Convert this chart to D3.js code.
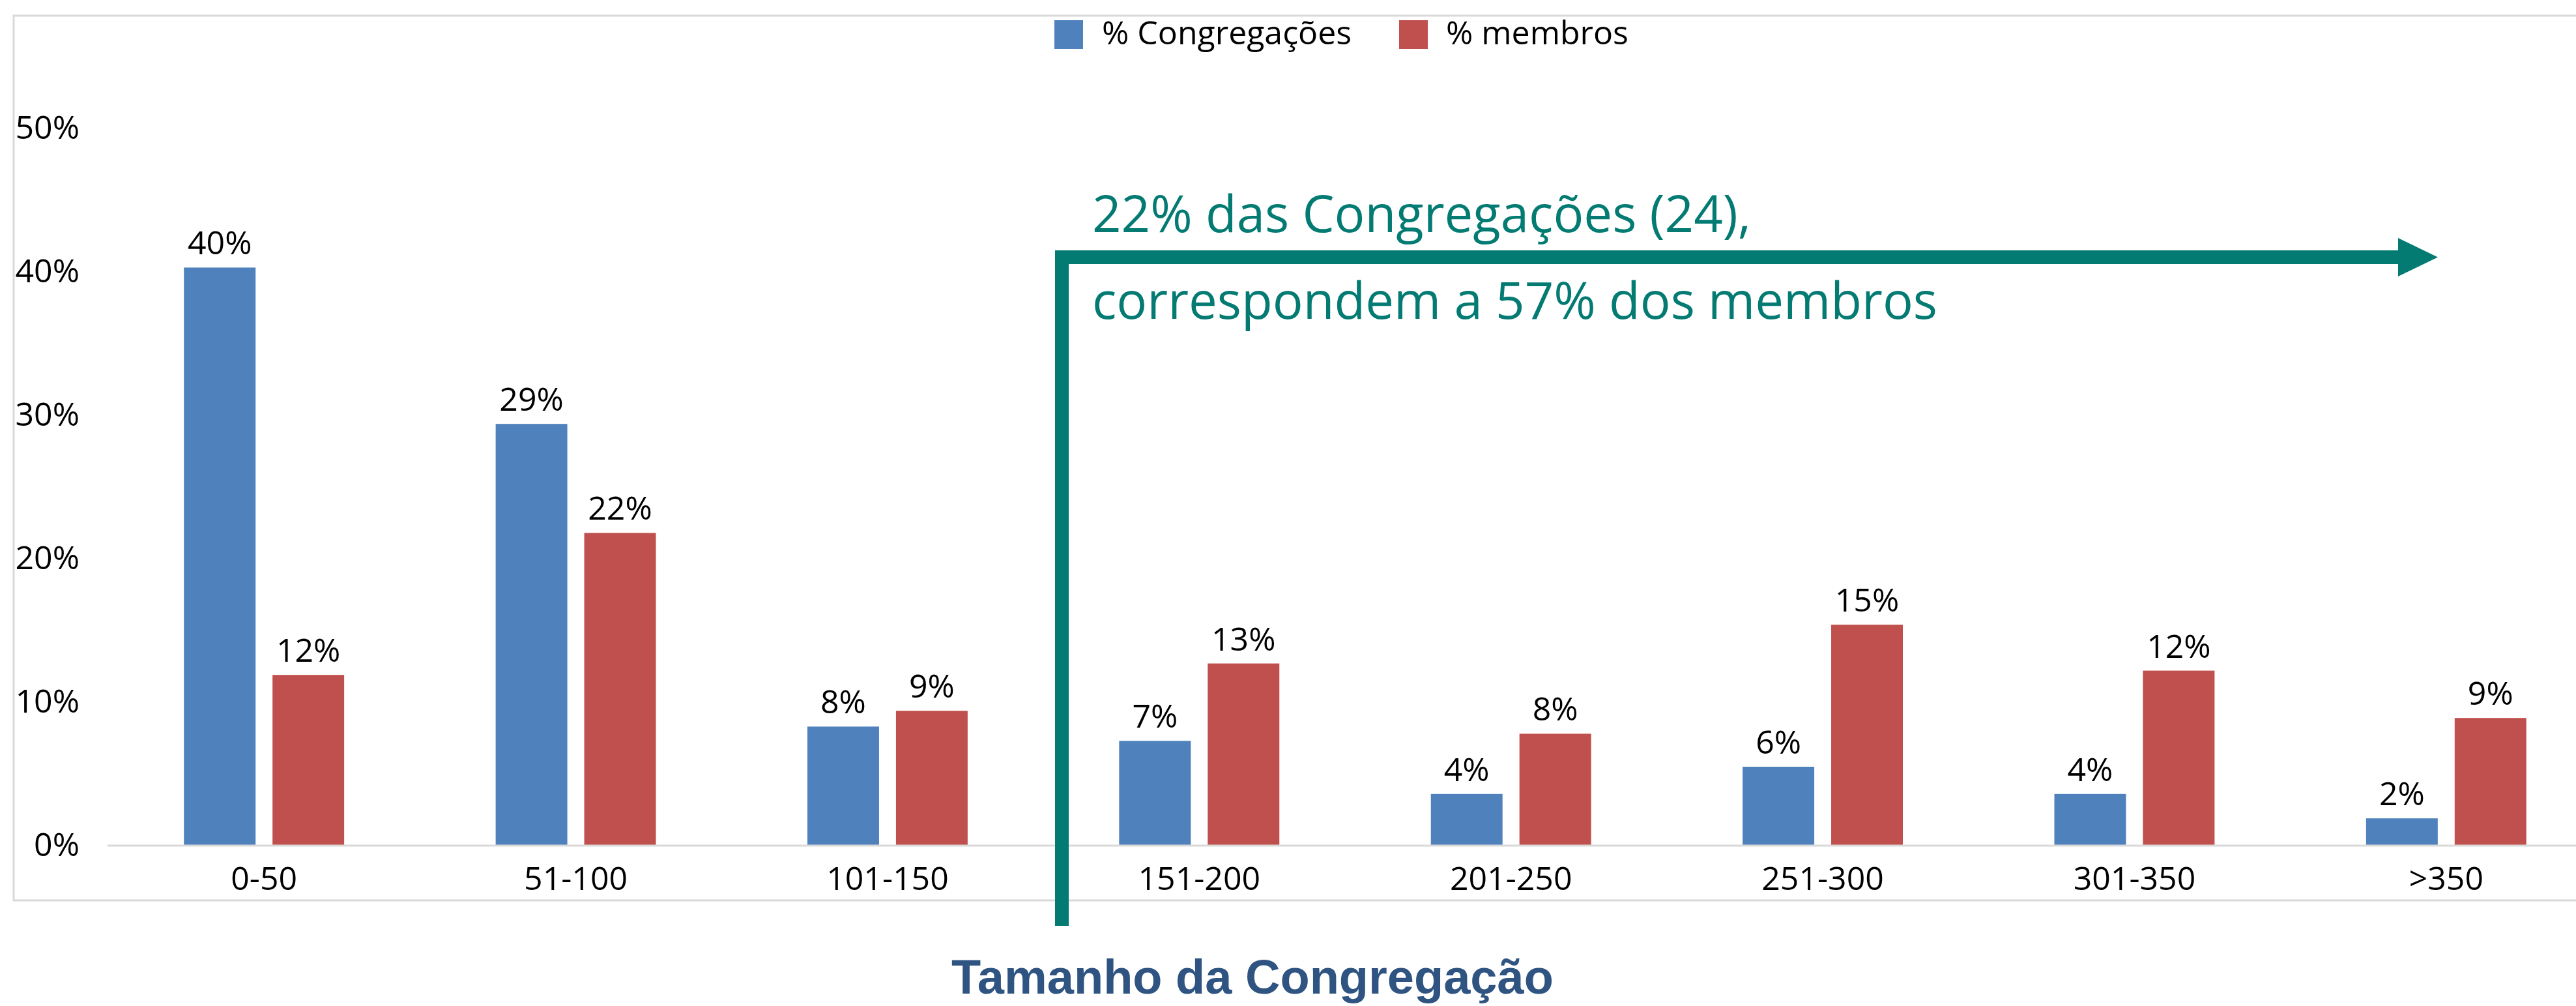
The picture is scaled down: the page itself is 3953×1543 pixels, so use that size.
<!DOCTYPE html>
<html>
<head>
<meta charset="utf-8">
<script src="https://cdn.jsdelivr.net/npm/d3@7"></script>
<style>
  html, body { margin: 0; padding: 0; background: #fff; }
  svg { display: block; }
</style>
</head>
<body>
<script>
// ---- data ----
const categories = ["0-50", "51-100", "101-150", "151-200", "201-250", "251-300", "301-350", ">350"];
const seriesNames = ["% Congregações", "% membros"];
const congregacoes = [40.3, 29.4, 8.3, 7.3, 3.6, 5.5, 3.6, 1.9];
const membros = [11.9, 21.8, 9.4, 12.7, 7.8, 15.4, 12.2, 8.9];
const yTicks = [0, 10, 20, 30, 40, 50];
const annotationLines = ["22% das Congregações (24),", "correspondem a 57% dos membros"];
const axisTitle = "Tamanho da Congregação";

const colors = ["#4F81BD", "#C0504D"];
const teal = "#037B73";
const W = 3953, H = 1543;
const font = "'Open Sans', sans-serif";

const svg = d3.select("body").append("svg").attr("width", W).attr("height", H);

// plot frame
svg.append("rect").attr("x", 21).attr("y", 24).attr("width", W + 40).attr("height", 1381 - 24)
  .attr("fill", "none").attr("stroke", "#D9D9D9").attr("stroke-width", 3);

const x0 = d3.scaleBand().domain(categories).range([166, 3993]).paddingInner(0.486).paddingOuter(0.243);
const x1 = d3.scaleBand().domain(seriesNames).range([0, x0.bandwidth()]).paddingInner(0.191);
const y = d3.scaleLinear().domain([0, 50]).range([1297, 197]);

const rows = categories.map((c, i) => ({ cat: c, vals: [congregacoes[i], membros[i]] }));

// y axis
const yAxis = d3.axisLeft(y).tickValues(yTicks).tickFormat(d => d + "%").tickSize(0).tickPadding(0);
const ya = svg.append("g").attr("transform", "translate(122,0)").call(yAxis);
ya.select(".domain").remove();
ya.selectAll("text").attr("font-family", font).attr("font-size", 50).attr("fill", "#000").attr("dy", "0.3em");

// bars
const g = svg.append("g");
const groups = g.selectAll("g.grp").data(rows).join("g").attr("class", "grp")
  .attr("transform", d => `translate(${x0(d.cat)},0)`);
groups.selectAll("rect").data(d => d.vals.map((v, j) => ({ v, s: seriesNames[j], j })))
  .join("rect")
  .attr("x", d => x1(d.s)).attr("width", x1.bandwidth())
  .attr("y", d => y(d.v)).attr("height", d => y(0) - y(d.v))
  .attr("fill", d => colors[d.j]);
groups.selectAll("text").data(d => d.vals.map((v, j) => ({ v, s: seriesNames[j], j })))
  .join("text")
  .attr("x", d => x1(d.s) + x1.bandwidth() / 2).attr("y", d => y(d.v) - 20)
  .attr("text-anchor", "middle").attr("font-family", font).attr("font-size", 50).attr("fill", "#000")
  .text(d => Math.round(d.v) + "%");

// x axis
const xAxis = d3.axisBottom(x0).tickSize(0).tickPadding(0);
const xa = svg.append("g").attr("transform", `translate(0,${y(0)})`).call(xAxis);
xa.select(".domain").attr("stroke", "#D9D9D9").attr("stroke-width", 3).attr("d", `M165,0H${W}`);
xa.selectAll("text").attr("font-family", font).attr("font-size", 50).attr("fill", "#000")
  .attr("dy", 0).attr("y", 68);

// legend
const legendPos = [{ sq: 1618, tx: 1691 }, { sq: 2147, tx: 2219 }];
const lg = svg.append("g");
seriesNames.forEach((s, i) => {
  lg.append("rect").attr("x", legendPos[i].sq).attr("y", 31).attr("width", 44).attr("height", 44).attr("fill", colors[i]);
  lg.append("text").attr("x", legendPos[i].tx).attr("y", 68).attr("font-family", font).attr("font-size", 50)
    .attr("fill", "#000").text(s);
});

// annotation
const ann = svg.append("g");
ann.append("rect").attr("x", 1619).attr("y", 384).attr("width", 21).attr("height", 1420 - 384).attr("fill", teal);
ann.append("rect").attr("x", 1619).attr("y", 384).attr("width", 3682 - 1619).attr("height", 21).attr("fill", teal);
ann.append("path").attr("d", "M3680,365L3741,394.5L3680,424Z").attr("fill", teal);
annotationLines.forEach((t, i) => {
  ann.append("text").attr("x", 1676).attr("y", 356 + i * 133).attr("font-family", font).attr("font-size", 78)
    .attr("fill", teal).text(t);
});

// axis title
svg.append("text").attr("x", 1922).attr("y", 1524).attr("text-anchor", "middle")
  .attr("font-family", "'Liberation Sans', Arial, sans-serif").attr("font-weight", "bold").attr("font-size", 74)
  .attr("fill", "#2F5481").text(axisTitle);
</script>
</body>
</html>
